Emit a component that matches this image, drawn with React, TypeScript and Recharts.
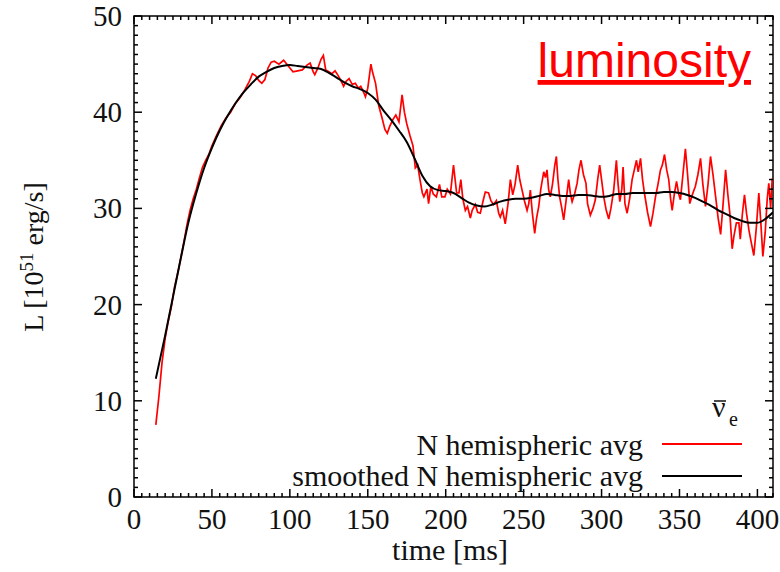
import { LineChart, Line, XAxis, YAxis, ReferenceArea } from "recharts";

// time [ms] and luminosity [10^51 erg/s]
const redTime = [
  14, 16, 18, 20, 22, 24, 26, 28, 30, 32,
  34, 36, 38, 40, 42, 44, 46, 48, 50, 53,
  56, 59, 62, 65, 68, 71, 74, 76, 78, 80,
  82, 84, 86, 88, 90, 93, 96, 99, 102, 105,
  108, 111, 113, 115, 116, 118, 120, 121.5, 123, 125,
  127, 129, 131, 133, 134.5, 136, 138, 140, 142, 144,
  145.5, 147, 148.5, 150, 152, 153, 155, 157, 159, 161,
  162.5, 164, 166, 168, 170, 172, 173.5, 175, 177, 179,
  180.5, 182, 183.5, 185, 186, 188, 189, 190.5, 192, 194,
  196, 197.5, 199.5, 201, 203, 205, 207, 208.5, 209.7, 211,
  212.6, 214, 215.8, 217, 219, 220.5, 222.2, 224, 225.4, 227.5,
  229, 230.7, 232.5, 234, 235, 236.5, 238.2, 240, 241.5, 243,
  244.5, 246.2, 247.5, 249, 250.5, 252.2, 253.3, 254.3, 255.6, 257.1,
  258.3, 259.7, 261, 262.9, 264, 265, 266, 267.1, 268.5, 270,
  271, 272, 273.1, 274.5, 275.7, 277, 278.9, 280, 281.1, 282.7,
  284.3, 285.5, 286.8, 288.4, 290, 291, 292.8, 294.5, 296, 297.5,
  298.8, 300, 301.4, 303, 304.6, 306, 307.8, 309.5, 310.6, 311.7,
  313, 313.8, 315, 316.4, 318, 319.6, 321, 322.4, 323.5, 325,
  326.3, 327.5, 329.5, 331.4, 333, 334.6, 336.2, 337.8, 339, 340.4,
  341.8, 343.1, 344.3, 345.3, 346.7, 348.1, 349.5, 350.6, 352.2, 353.8,
  355.2, 356.6, 358.4, 360.2, 361.8, 363.5, 365, 366.7, 368.3, 369.9,
  371.5, 373.2, 374.8, 376.4, 378, 379.6, 381, 382.3, 383.8, 384.9,
  386.5, 388.1, 389, 390.4, 391.7, 393, 394.5, 396, 397.7, 399.3,
  400.9, 402.2, 403.5, 405, 406.3, 407.3, 408.5, 409.5,
];
const redLum = [
  7.5, 10.5, 14, 16.5, 18.3, 19.8, 21.8, 23.2, 24.8, 26.5,
  28.3, 29.8, 31.0, 32.0, 33.2, 34.3, 35.0, 35.6, 36.5, 37.6,
  38.6, 39.4, 40.0, 40.9, 41.5, 42.3, 43.2, 44.0, 43.8, 43.3,
  43.0, 43.4, 44.6, 45.2, 45.3, 45.0, 45.4, 44.8, 44.2, 44.3,
  44.4, 44.9, 45.1, 44.2, 43.9, 44.6, 45.5, 45.9, 44.4, 44.2,
  44.0, 44.3, 43.8, 43.2, 42.7, 43.2, 43.5, 42.9, 43.0, 42.5,
  42.7, 42.2, 41.6, 42.5, 45.0, 44.2, 43.0, 40.7, 39.5, 38.2,
  37.8, 38.5, 39.2, 39.7, 39.0, 41.8, 40.0, 38.8, 37.6, 36.5,
  34.2, 34.5, 33.0, 31.6, 31.2, 32.0, 30.5, 32.3, 31.5, 31.2,
  32.5, 31.2, 31.2, 32.0, 31.5, 34.5, 31.6, 31.6, 33.0, 31.0,
  29.8, 30.2, 29.0, 29.8, 30.4, 29.6, 29.5, 30.8, 31.7, 31.6,
  30.8, 30.4, 30.8, 29.5, 29.1, 29.8, 28.4, 30.5, 33.0, 31.4,
  32.5, 34.5, 33.0, 31.9, 30.8, 29.8, 30.5, 31.9, 29.5, 27.4,
  29.0, 30.2, 32.0, 33.8, 33.2, 34.0, 32.0, 31.2, 32.5, 34.5,
  35.4, 33.0, 31.2, 30.0, 28.8, 30.5, 33.0, 31.5, 30.7, 31.5,
  32.6, 34.0, 35.0, 33.5, 32.6, 30.5, 29.3, 30.0, 30.9, 33.0,
  34.5, 33.0, 31.2, 29.8, 28.9, 30.0, 31.9, 35.0, 32.5, 30.7,
  32.0, 34.3, 30.5, 29.5, 31.0, 33.0, 34.0, 35.0, 33.8, 35.2,
  33.0, 31.6, 29.6, 28.1, 29.5, 31.2, 32.5, 34.0, 34.5, 35.6,
  34.0, 33.0, 31.0, 29.8, 31.5, 32.8, 31.5, 30.9, 33.5, 36.2,
  33.5, 30.5, 31.5, 32.3, 33.5, 35.2, 32.5, 30.2, 32.5, 35.4,
  33.5, 31.2, 29.0, 27.3, 30.5, 34.0, 31.5, 29.5, 25.8, 27.1,
  28.5, 28.5, 26.8, 29.5, 31.4, 29.5, 27.8, 26.5, 25.1, 28.0,
  31.6, 28.5, 25.0, 27.5, 31.0, 32.6, 30.0, 33.1,
];

const smoothTime = [
  14, 20, 25, 30, 35, 40, 45, 50, 55, 60,
  65, 70, 75, 80, 85, 90, 95, 100, 105, 110,
  115, 120, 125, 130, 135, 140, 145, 150, 155, 160,
  165, 170, 175, 180, 185, 190, 195, 200, 205, 210,
  215, 220, 225, 230, 235, 240, 245, 250, 255, 260,
  265, 270, 275, 280, 285, 290, 295, 300, 305, 310,
  315, 320, 325, 330, 335, 340, 345, 350, 355, 360,
  365, 370, 375, 380, 385, 390, 395, 400, 405, 410,
];
const smoothLum = [
  12.3, 16.8, 20.8, 24.8, 28.6, 31.6, 34.2, 36.3, 38.1, 39.6,
  40.9, 42.0, 42.9, 43.7, 44.2, 44.6, 44.8, 44.9, 44.8, 44.7,
  44.6, 44.5, 44.1, 43.6, 43.1, 42.7, 42.4, 42.0, 41.3, 40.2,
  39.2, 38.1, 36.9, 35.2, 33.4, 32.3, 31.9, 31.8, 31.6, 31.1,
  30.6, 30.3, 30.2, 30.4, 30.7, 30.9, 31.0, 31.0, 31.1, 31.3,
  31.5, 31.4, 31.3, 31.3, 31.4, 31.4, 31.3, 31.2, 31.3, 31.5,
  31.5, 31.6, 31.6, 31.6, 31.6, 31.7, 31.7, 31.6, 31.4, 31.1,
  30.7, 30.3, 29.8, 29.4, 29.0, 28.7, 28.5, 28.5, 28.9, 29.6,
];

const xMinorTicks = Array.from({ length: 83 }, (_, i) => i * 5);
const yMinorTicks = Array.from({ length: 51 }, (_, i) => i);

const redData = redTime.map((t, i) => ({ t, L: redLum[i] }));
const smoothData = smoothTime.map((t, i) => ({ t, L: smoothLum[i] }));

const W = 780;
const H = 572;
const PLOT_LEFT = 134;
const PLOT_RIGHT = 773;
const PLOT_TOP = 16;
const PLOT_BOTTOM = 497;
const SERIF = "'Liberation Serif', 'Times New Roman', serif";
const TICK_FONT = 29;

const XTick = (props: any) => {
  const { x, payload } = props;
  const v = payload.value;
  const major = v % 50 === 0;
  const len = major ? 8 : 4;
  return (
    <g>
      <line x1={x} x2={x} y1={PLOT_BOTTOM} y2={PLOT_BOTTOM - len} stroke="#000" strokeWidth={1.5} />
      <line x1={x} x2={x} y1={PLOT_TOP} y2={PLOT_TOP + len} stroke="#000" strokeWidth={1.5} />
      {major && v <= 400 && (
        <text x={x} y={529} textAnchor="middle" fontFamily={SERIF} fontSize={TICK_FONT} fill="#111">
          {v}
        </text>
      )}
    </g>
  );
};

const YTick = (props: any) => {
  const { y, payload } = props;
  const v = payload.value;
  const major = v % 10 === 0;
  const len = major ? 8 : 4;
  return (
    <g>
      <line x1={PLOT_LEFT} x2={PLOT_LEFT + len} y1={y} y2={y} stroke="#000" strokeWidth={1.5} />
      <line x1={PLOT_RIGHT} x2={PLOT_RIGHT - len} y1={y} y2={y} stroke="#000" strokeWidth={1.5} />
      {major && (
        <text x={122} y={y + 10} textAnchor="end" fontFamily={SERIF} fontSize={TICK_FONT} fill="#111">
          {v}
        </text>
      )}
    </g>
  );
};

export default function App() {
  return (
    <div style={{ position: "absolute", left: 0, top: 0, width: W, height: H, background: "#fff" }}>
      <LineChart
        width={W}
        height={H}
        margin={{ top: PLOT_TOP, right: W - PLOT_RIGHT, bottom: 0, left: 0 }}
      >
        <XAxis
          dataKey="t"
          type="number"
          domain={[0, 410]}
          ticks={xMinorTicks}
          interval={0}
          tick={<XTick />}
          tickLine={false}
          axisLine={false}
          height={H - PLOT_BOTTOM}
          allowDataOverflow
        />
        <YAxis
          dataKey="L"
          type="number"
          domain={[0, 50]}
          ticks={yMinorTicks}
          interval={0}
          tick={<YTick />}
          tickLine={false}
          axisLine={false}
          width={PLOT_LEFT}
          allowDataOverflow
        />
        <ReferenceArea x1={0} x2={410} y1={0} y2={50} fill="none" stroke="#000" strokeWidth={1.5} ifOverflow="visible" />
        <Line
          data={redData}
          dataKey="L"
          type="linear"
          stroke="#ff0000"
          strokeWidth={1.7}
          dot={false}
          isAnimationActive={false}
        />
        <Line
          data={smoothData}
          dataKey="L"
          type="monotone"
          stroke="#000"
          strokeWidth={2}
          dot={false}
          isAnimationActive={false}
        />
      </LineChart>
      <svg
        width={W}
        height={H}
        style={{ position: "absolute", left: 0, top: 0, pointerEvents: "none" }}
      >
        <text x={751} y={77} textAnchor="end" fontFamily="'Liberation Sans', Arial, sans-serif" fontSize={48} fill="#ff0000" textDecoration="underline">
          luminosity
        </text>
        <text transform="translate(43,257) rotate(-90)" textAnchor="middle" fontFamily={SERIF} fontSize={28} fill="#111">
          L [10
          <tspan dy={-10} fontSize={19}>51</tspan>
          <tspan dy={10}> erg/s]</tspan>
        </text>
        <text x={450} y={560} textAnchor="middle" fontFamily={SERIF} fontSize={30} fill="#111">
          time [ms]
        </text>
        <text x={712} y={417} fontFamily={SERIF} fontSize={30} fill="#111">ν</text>
        <line x1={714} x2={726} y1={401} y2={401} stroke="#111" strokeWidth={1.5} />
        <text x={729} y={426} fontFamily={SERIF} fontSize={20} fill="#111">e</text>
        <text x={643} y={455} textAnchor="end" fontFamily={SERIF} fontSize={30} fill="#111">
          N hemispheric avg
        </text>
        <line x1={662} x2={742} y1={444} y2={444} stroke="#ff0000" strokeWidth={2} />
        <text x={643} y={486} textAnchor="end" fontFamily={SERIF} fontSize={30} fill="#111">
          smoothed N hemispheric avg
        </text>
        <line x1={662} x2={742} y1={476} y2={476} stroke="#000" strokeWidth={2} />
      </svg>
    </div>
  );
}
